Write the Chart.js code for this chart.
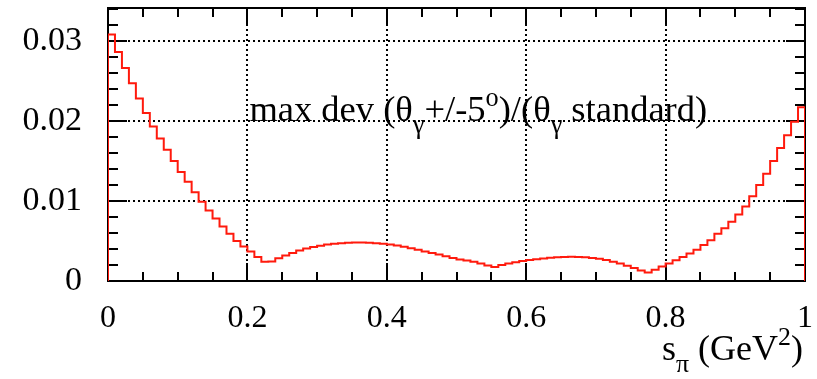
<!DOCTYPE html>
<html>
<head>
<meta charset="utf-8">
<script src="https://cdn.jsdelivr.net/npm/chart.js@4/dist/chart.umd.min.js"></script>
<style>
  html, body { margin: 0; padding: 0; background: #fff; }
  #wrap { width: 817px; height: 379px; position: relative; }
</style>
</head>
<body>
<div id="wrap"><canvas id="c" width="817" height="379"></canvas></div>
<script>
// Histogram: 100 bins of s_pi between 0 and 1 GeV^2
const xRange = [0, 1];
const deviation = [
  0.0308, 0.0286, 0.0266, 0.0247, 0.0228, 0.0210, 0.0193, 0.0178, 0.0164, 0.0150,
  0.0136, 0.0124, 0.0111, 0.0099, 0.0088, 0.0078, 0.0068, 0.0059, 0.0050, 0.0043,
  0.0037, 0.0030, 0.0024, 0.00245, 0.00285, 0.0032, 0.0035, 0.0038, 0.00405, 0.00425,
  0.0044, 0.00455, 0.00465, 0.00472, 0.00477, 0.0048, 0.0048, 0.00478, 0.00472, 0.00465,
  0.00455, 0.00442, 0.00428, 0.0041, 0.0039, 0.0037, 0.0035, 0.0033, 0.00308, 0.00288,
  0.0027, 0.00255, 0.0024, 0.0022, 0.00195, 0.00175, 0.0020, 0.0022, 0.00235, 0.0025,
  0.00262, 0.00272, 0.00282, 0.0029, 0.00296, 0.0030, 0.00302, 0.0030, 0.00296, 0.00288,
  0.00278, 0.00262, 0.00242, 0.00218, 0.00192, 0.00162, 0.00132, 0.00105, 0.0014, 0.0018,
  0.0022, 0.0026, 0.0030, 0.00345, 0.0039, 0.0045, 0.0051, 0.0059, 0.0066, 0.0074,
  0.0083, 0.0093, 0.0106, 0.0120, 0.0134, 0.0150, 0.0166, 0.0182, 0.0199, 0.0217
];
const xTicks = [0, 0.2, 0.4, 0.6, 0.8, 1];
const xTickLabels = ['0', '0.2', '0.4', '0.6', '0.8', '1'];
const yTicks = [0, 0.01, 0.02, 0.03];
const yTickLabels = ['0', '0.01', '0.02', '0.03'];
const yMax = 0.0341;
const xMinorStep = 0.05;
const yMinorStep = 0.002;

// Bin edges -> stepped outline, closed down to zero at both ends
const binWidth = (xRange[1] - xRange[0]) / deviation.length;
const outline = [{ x: xRange[0], y: 0 }]
  .concat(deviation.map((v, i) => ({ x: xRange[0] + i * binWidth, y: v })))
  .concat([{ x: xRange[1], y: 0 }]);

const SERIF = '"Liberation Serif", "Times New Roman", serif';

// Text with sub/superscripts: parts are [text, kind] where kind 0 = normal, 1 = sub, 2 = sup
function drawRich(ctx, parts, x, y, size, align) {
  const fontFor = k => (k ? size * 0.72 : size) + 'px ' + SERIF;
  let total = 0;
  parts.forEach(([t, k]) => { ctx.font = fontFor(k); total += ctx.measureText(t).width; });
  let cx = align === 'right' ? x - total : x;
  ctx.textBaseline = 'alphabetic';
  ctx.textAlign = 'left';
  parts.forEach(([t, k]) => {
    ctx.font = fontFor(k);
    const dy = k === 1 ? size * 0.32 : (k === 2 ? -size * 0.42 : 0);
    ctx.fillText(t, cx, y + dy);
    cx += ctx.measureText(t).width;
  });
}

// Keep the plot frame fixed: no extra room reserved for overhanging tick labels
function fixBox(size, isX) {
  return s => {
    if (isX) s.height = size; else s.width = size;
    s.paddingTop = 0; s.paddingBottom = 0; s.paddingLeft = 0; s.paddingRight = 0;
  };
}

const frameAndTicks = {
  id: 'frameAndTicks',
  beforeDatasetsDraw(chart) {
    const { ctx, chartArea: a, scales: { x, y } } = chart;
    ctx.save();
    // dotted grid at major ticks
    ctx.strokeStyle = '#000';
    ctx.lineWidth = 2;
    ctx.setLineDash([2, 3]);
    xTicks.forEach(v => {
      if (v <= xRange[0] || v >= xRange[1]) return;
      const px = Math.round(x.getPixelForValue(v));
      ctx.beginPath(); ctx.moveTo(px, a.bottom); ctx.lineTo(px, a.top); ctx.stroke();
    });
    yTicks.forEach(v => {
      if (v <= 0) return;
      const py = Math.round(y.getPixelForValue(v));
      ctx.beginPath(); ctx.moveTo(a.left, py); ctx.lineTo(a.right, py); ctx.stroke();
    });
    ctx.setLineDash([]);

    // tick marks on all four sides
    ctx.lineWidth = 2;
    const isMajor = (v, list) => list.some(t => Math.abs(t - v) < 1e-9);
    ctx.beginPath();
    for (let i = 0; i * xMinorStep <= xRange[1] + 1e-9; i++) {
      const v = i * xMinorStep;
      const len = isMajor(v, xTicks) ? 18 : 9;
      const px = Math.round(x.getPixelForValue(v));
      ctx.moveTo(px, a.bottom); ctx.lineTo(px, a.bottom - len);
      ctx.moveTo(px, a.top); ctx.lineTo(px, a.top + len);
    }
    for (let i = 0; i * yMinorStep <= yMax + 1e-9; i++) {
      const v = i * yMinorStep;
      const len = isMajor(v, yTicks) ? 19 : 10;
      const py = Math.round(y.getPixelForValue(v));
      ctx.moveTo(a.left, py); ctx.lineTo(a.left + len, py);
      ctx.moveTo(a.right, py); ctx.lineTo(a.right - len, py);
    }
    ctx.stroke();

    // frame
    ctx.strokeRect(a.left, a.top, a.right - a.left, a.bottom - a.top);
    ctx.restore();
  },
  afterDraw(chart) {
    const { ctx, chartArea: a, scales: { x, y } } = chart;
    ctx.save();
    ctx.fillStyle = '#000';
    // in-pad caption anchored at (0.2, 0.02)
    drawRich(ctx,
      [['max dev (\u03B8', 0], ['\u03B3', 1], ['+/-5', 0], ['o', 2], [')/(\u03B8', 0], ['\u03B3', 1], [' standard)', 0]],
      x.getPixelForValue(0.2) + 2, y.getPixelForValue(0.02), 36.5, 'left');
    // x axis title, right-aligned under the axis
    drawRich(ctx,
      [['s', 0], ['\u03C0', 1], [' (GeV', 0], ['2', 2], [')', 0]],
      a.right - 2, 360, 36, 'right');
    ctx.restore();
  }
};

new Chart(document.getElementById('c'), {
  type: 'line',
  data: {
    datasets: [{
      data: outline,
      borderColor: '#ff1a0d',
      borderWidth: 2,
      pointRadius: 0,
      stepped: 'before',
      fill: false,
      tension: 0
    }]
  },
  options: {
    responsive: false,
    animation: false,
    devicePixelRatio: 1,
    layout: { autoPadding: false, padding: { left: 0, right: 12, top: 8, bottom: 0 } },
    plugins: { legend: { display: false }, tooltip: { enabled: false } },
    scales: {
      x: {
        type: 'linear',
        min: xRange[0],
        max: xRange[1],
        grid: { display: false, drawTicks: false },
        border: { display: false },
        afterBuildTicks: s => { s.ticks = xTicks.map(v => ({ value: v })); },
        afterFit: fixBox(98, true),
        ticks: {
          padding: 18,
          maxRotation: 0,
          autoSkip: false,
          color: '#000',
          font: { family: SERIF, size: 32 },
          callback: (v, i) => xTickLabels[i]
        }
      },
      y: {
        type: 'linear',
        min: 0,
        max: yMax,
        grid: { display: false, drawTicks: false },
        border: { display: false },
        afterBuildTicks: s => { s.ticks = yTicks.map(v => ({ value: v })); },
        afterFit: fixBox(108, false),
        ticks: {
          padding: 26,
          color: '#000',
          font: { family: SERIF, size: 34 },
          callback: (v, i) => yTickLabels[i]
        }
      }
    }
  },
  plugins: [frameAndTicks]
});
</script>
</body>
</html>
